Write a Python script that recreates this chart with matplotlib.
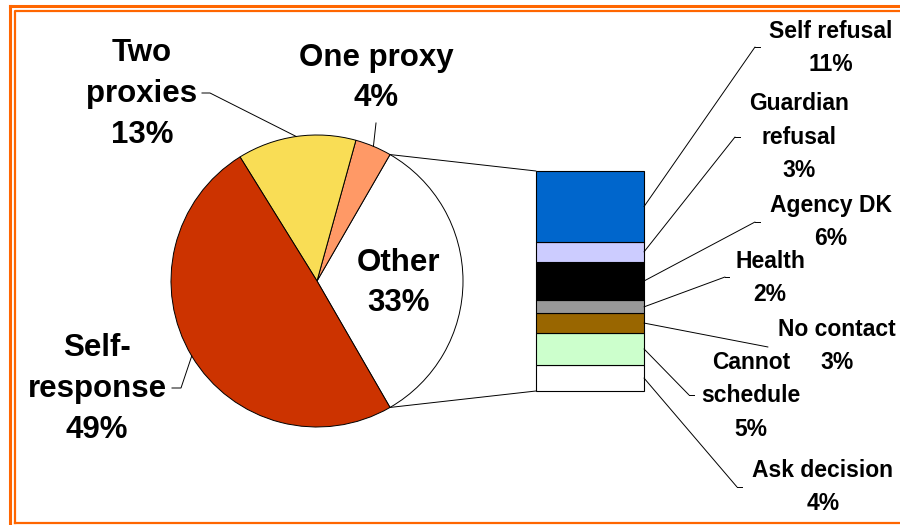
import numpy as np
import matplotlib.pyplot as plt
from matplotlib.patches import ConnectionPatch
from matplotlib.lines import Line2D

plt.rcParams['font.family'] = ['Liberation Sans', 'DejaVu Sans']
plt.rcParams['font.weight'] = 'bold'

# main pie, counter-clockwise starting with the "Other" slice
pie_labels = ['Other', 'One proxy', 'Two\nproxies', 'Self-\nresponse']
pie_values = [33, 4, 13, 49]
pie_colors = ['#FFFFFF', '#FF9966', '#F9DD55', '#CC3300']

# breakdown of "Other", listed top to bottom
bar_labels = ['Self refusal', 'Guardian\nrefusal', 'Agency DK', 'Health',
              'No contact', 'Cannot\nschedule', 'Ask decision']
bar_values = [11, 3, 6, 2, 3, 5, 4]
bar_colors = ['#0066CC', '#CCCCFF', '#000000', '#999999',
              '#996600', '#CCFFCC', '#FFFFFF']

W, H = 900, 525
fig = plt.figure(figsize=(9, 5.25), dpi=100)
ax = fig.add_axes([0, 0, 1, 1])

cx, cy, r = 317, 244, 146
wedges, _ = ax.pie(pie_values, colors=pie_colors, startangle=-60,
                   center=(cx, cy), radius=r,
                   wedgeprops=dict(edgecolor='black', linewidth=0.7))
ax.set_xlim(0, W)
ax.set_ylim(0, H)
ax.set_aspect('equal')
ax.axis('off')


def edge_pt(ang):
    a = np.deg2rad(ang)
    return cx + r * np.cos(a), cy + r * np.sin(a)


# pie labels: text position, leader elbow, tick end (None -> no leader)
pie_text_pos = [(399, 242), (376, 447), (142, 431), (97, 136)]
pie_elbow = [None, (376, 402), (210, 432), (181, 137)]
pie_tick = [None, (376, 402), (202, 432), (172, 137)]

for w, lab, val, pos, elb, tk in zip(wedges, pie_labels, pie_values,
                                     pie_text_pos, pie_elbow, pie_tick):
    ax.text(pos[0], pos[1], f"{lab}\n{val}%", ha='center', va='center',
            multialignment='center', fontsize=22.5, fontweight='bold',
            linespacing=1.46)
    if elb is not None:
        ex, ey = edge_pt((w.theta1 + w.theta2) / 2)
        ax.plot([ex, elb[0], tk[0]], [ey, elb[1], tk[1]], color='black', lw=0.7)

# stacked bar for the "Other" breakdown
total = sum(bar_values)
bax = fig.add_axes([536 / W, (H - 391) / H, 108 / W, 220 / H])
bottom = 0
for val, col in zip(bar_values[::-1], bar_colors[::-1]):
    bax.bar(0, val, bottom=bottom, width=1, color=col, edgecolor='black',
            linewidth=0.8, clip_on=False)
    bottom += val
bax.set_xlim(-0.5, 0.5)
bax.set_ylim(0, total)
bax.axis('off')

# lines from the "Other" slice to the bar
oth = wedges[0]
for ang, yb in [(oth.theta2, total), (oth.theta1, 0)]:
    cp = ConnectionPatch(xyA=edge_pt(ang), coordsA=ax.transData,
                         xyB=(-0.5, yb), coordsB=bax.transData,
                         color='black', lw=0.7)
    fig.add_artist(cp)

# bar labels
bar_text_pos = [(831, 477), (799, 388), (831, 303), (770, 247),
                (837, 179), (751, 129), (823, 38)]
bar_elbow = [(755, 478), (735, 388), (755, 303), (725, 248),
             (768, 178), (689, 130), (737, 38)]
bar_tick = [760, 740, 760, 729, 768, 694, 742]

tops = np.cumsum(bar_values)
for lab, val, top, pos, elb, tk in zip(bar_labels, bar_values, tops,
                                      bar_text_pos, bar_elbow, bar_tick):
    ax.text(pos[0], pos[1], f"{lab}\n{val}%", ha='center', va='center',
            multialignment='center', fontsize=16.5, fontweight='bold',
            linespacing=1.56)
    mid = total - top + val / 2
    cp = ConnectionPatch(xyA=(0.5, mid), coordsA=bax.transData,
                         xyB=elb, coordsB=ax.transData,
                         color='black', lw=0.7)
    fig.add_artist(cp)
    ax.plot([elb[0], tk], [elb[1], elb[1]], color='black', lw=0.7)

# double orange frame (right side runs off the picture)
orange = '#FF6600'
fig.add_artist(Line2D([9.5 / W, 9.5 / W], [0, (H - 6) / H], transform=fig.transFigure,
                      color=orange, lw=2.2))
fig.add_artist(Line2D([9.5 / W, 1], [(H - 6) / H, (H - 6) / H], transform=fig.transFigure,
                      color=orange, lw=2.2))
fig.add_artist(Line2D([15 / W, 15 / W, 1], [(H - 523) / H, (H - 11) / H, (H - 11) / H],
                      transform=fig.transFigure, color=orange, lw=1.6))
fig.add_artist(Line2D([15 / W, 1], [(H - 523) / H, (H - 523) / H],
                      transform=fig.transFigure, color=orange, lw=1.6))

fig.savefig('out.png', dpi=100)
